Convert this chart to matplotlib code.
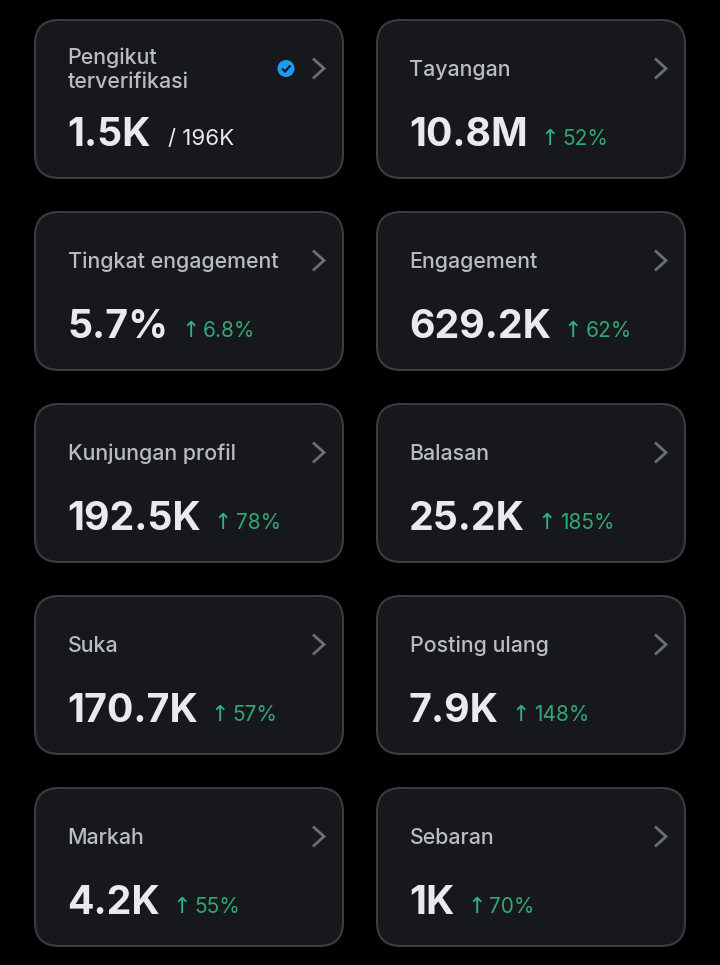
import matplotlib
matplotlib.use("Agg")
import matplotlib.pyplot as plt
from matplotlib.patches import FancyBboxPatch, Circle
from matplotlib.path import Path
from matplotlib.patches import PathPatch

labels = ["Pengikut\nterverifikasi", "Tayangan", "Tingkat engagement", "Engagement",
          "Kunjungan profil", "Balasan", "Suka", "Posting ulang", "Markah", "Sebaran"]
values = ["1.5K", "10.8M", "5.7%", "629.2K", "192.5K", "25.2K", "170.7K", "7.9K", "4.2K", "1K"]
deltas = [None, "52%", "6.8%", "62%", "78%", "185%", "57%", "148%", "55%", "70%"]
total_text = "/ 196K"

W, H = 720, 965
CARD_W, CARD_H = 308, 158
COL_X = [35, 377]
ROW_Y0, ROW_PITCH = 20, 192
FONT = ["Inter", "DejaVu Sans"]

fig = plt.figure(figsize=(W / 100, H / 100), dpi=100, facecolor="#000000")
ax = fig.add_axes([0, 0, 1, 1])
ax.set_xlim(0, W)
ax.set_ylim(H, 0)
ax.axis("off")
renderer = fig.canvas.get_renderer()

def right_edge(t):
    bb = t.get_window_extent(renderer)
    return bb.x1

for i, (lab, val, d) in enumerate(zip(labels, values, deltas)):
    x = COL_X[i % 2]
    y = ROW_Y0 + ROW_PITCH * (i // 2)
    r = 24
    ax.add_patch(FancyBboxPatch((x + r, y + r), CARD_W - 2 * r, CARD_H - 2 * r,
                                boxstyle=f"round,pad={r},rounding_size={r}",
                                fc="#16181c", ec="#3a3c41", lw=1.5))
    tx = x + 33
    kw = dict(color="#b9bcc0", fontsize=15.4, fontweight="medium", family=FONT, va="baseline")
    if "\n" in lab:
        a, b = lab.split("\n")
        ax.text(tx - 0.5, y + 44, a, **kw)
        ax.text(tx - 0.5, y + 68, b, **kw)
    else:
        ax.text(tx - 0.5, y + 56, lab, **kw)
    vt = ax.text(tx - 1, y + 125.5, val, color="#e9eaeb", fontsize=28.3, fontweight="bold",
                 family=FONT, va="baseline")
    end = right_edge(vt)
    if d is None:
        ax.text(end + 17, y + 125, total_text, color="#e7e9ea", fontsize=16,
                family=FONT, va="baseline")
    else:
        ax.text(end + 13, y + 125, "↑", color="#2fb583", fontsize=15.8,
                family=["DejaVu Sans"], va="baseline")
        ax.text(end + 35, y + 125, d, color="#2fa77a", fontsize=15,
                family=FONT, va="baseline")
    # chevron
    cx, cy = x + 278, y + 48.5
    ax.add_patch(PathPatch(Path([(cx, cy - 10), (cx + 11, cy), (cx, cy + 10)]),
                           fc="none", ec="#6b6e73", lw=2.0, capstyle="butt", joinstyle="miter"))

# verified badge
ax.add_patch(Circle((286, 68.5), 8.5, fc="#1d9bf0", ec="none"))
ax.add_patch(PathPatch(Path([(282, 68.5), (285, 71.5), (290.5, 65.5)]),
                       fc="none", ec="#16181c", lw=1.6))

fig.savefig("out.png", dpi=100, facecolor=fig.get_facecolor())
